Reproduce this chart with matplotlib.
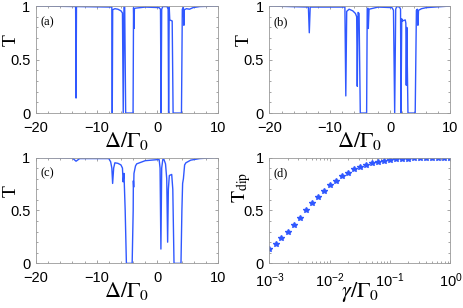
import matplotlib
matplotlib.use("Agg")
import matplotlib.pyplot as plt
from matplotlib.ticker import MultipleLocator, LogLocator, NullFormatter

# panel (a): transmission vs detuning, smallest loss
delta_a = [-20, -13.47, -13.4, -13.33, -7.5, -7.43, -7.36, -7.0, -6.5, -6.0, -5.75, -5.62,
           -5.5, -5.38, -5.22, -4.0, -3.92, -3.85, -3.78, -3.6, -2.0, 0.3, 0.52, 0.62,
           0.72, 0.9, 1.6, 1.78, 1.86, 1.96, 2.05, 2.45, 2.6, 3.98, 4.12, 4.3, 4.38, 4.45,
           4.8, 5.3, 5.9, 7.0, 10]
trans_a = [1.0, 0.995, 0.14, 0.995, 0.99, 0.0, 0.965, 0.975, 0.97, 0.955, 0.935, 0.0,
           0.99, 0.99, 0.0, 0.0, 0.985, 0.79, 0.975, 0.98, 0.99, 0.985, 0.97, 0.0,
           0.97, 0.995, 0.995, 0.97, 0.0, 0.99, 0.87, 0.86, 0.0, 0.0, 0.97, 0.985, 0.82, 0.965,
           0.975, 0.97, 0.985, 0.995, 1.0]

# panel (b)
delta_b = [-20, -13.55, -13.4, -13.25, -7.5, -7.35, -7.2, -6.8, -6.2, -5.75, -5.55, -5.45,
           -5.32, -5.15, -4.95, -3.9, -3.8, -3.7, -3.62, -3.5, -2.0, 0.3, 0.55, 0.75,
           0.92, 1.1, 1.55, 1.72, 1.8, 1.92, 2.0, 2.5, 2.6, 2.67, 2.76, 2.95, 4.15, 4.35,
           4.5, 4.6, 4.7, 5.2, 6.0, 10]
trans_b = [1.0, 0.99, 0.75, 0.99, 0.99, 0.16, 0.95, 0.97, 0.955, 0.93, 0.9, 0.25,
           0.94, 0.93, 0.0, 0.0, 0.97, 0.98, 0.79, 0.97, 0.99, 0.985, 0.96, 0.0,
           0.97, 0.995, 0.99, 0.97, 0.0, 0.88, 0.86, 0.87, 0.84, 0.26, 0.8, 0.0, 0.0, 0.96,
           0.97, 0.82, 0.96, 0.975, 0.985, 1.0]

# panel (c), largest loss
delta_c = [-20, -14.0, -13.4, -12.8, -8.0, -7.7, -7.5, -7.37, -7.2, -7.0, -6.5, -6.0,
           -5.75, -5.64, -5.5, -5.3, -5.1, -4.15, -3.98, -3.95, -3.9, -3.85, -3.6, -3.4,
           -2.0, 0.0, 0.3, 0.45, 0.59, 0.72, 0.9, 1.1, 1.35, 1.55, 1.7, 1.82, 1.98, 2.37,
           2.55, 2.75, 3.9, 4.05, 4.17, 4.3, 4.5, 4.71, 5.5, 7.0, 10]
trans_c = [1.0, 0.995, 0.965, 0.99, 0.99, 0.96, 0.9, 0.755, 0.9, 0.95, 0.945, 0.93,
           0.9, 0.77, 0.85, 0.5, 0.0, 0.0, 0.5, 0.78, 0.72, 0.85, 0.92, 0.94,
           0.97, 0.98, 0.98, 0.9, 0.135, 0.9, 0.98, 0.98, 0.94, 0.8, 0.2, 0.7, 0.83, 0.84,
           0.7, 0.0, 0.0, 0.5, 0.755, 0.8, 0.93, 0.95, 0.975, 0.99, 1.0]

# panel (d): dip transmission vs loss rate
gamma_d = [1.0e-3, 1.26e-3, 1.58e-3, 2.0e-3, 2.51e-3, 3.16e-3, 3.98e-3, 5.01e-3, 6.31e-3, 7.94e-3,
           1.0e-2, 1.26e-2, 1.58e-2, 2.0e-2, 2.51e-2, 3.16e-2, 3.98e-2, 5.01e-2, 6.31e-2, 7.94e-2,
           1.0e-1, 1.26e-1, 1.58e-1, 2.0e-1, 2.51e-1, 3.16e-1, 3.98e-1, 5.01e-1, 6.31e-1, 7.94e-1,
           1.0]
tdip_d = [0.14, 0.18, 0.236, 0.30, 0.365, 0.43, 0.50, 0.566, 0.63, 0.68,
          0.736, 0.78, 0.824, 0.858, 0.887, 0.912, 0.93, 0.947, 0.96, 0.97,
          0.977, 0.984, 0.987, 0.99, 0.992, 0.994, 0.995, 0.997, 0.997, 0.998,
          0.998]

BLUE = "#3058ff"
TICK_FONT = "Liberation Sans"
plt.rcParams["mathtext.fontset"] = "stix"
plt.rcParams["font.family"] = "Liberation Serif"


def style_axes(ax, log_x=False):
    for s in ax.spines.values():
        s.set_color("0.6")
        s.set_linewidth(0.6)
    ax.set_ylim(0, 1)
    ax.set_yticks([0, 0.5, 1])
    ax.set_yticklabels(["0", "0.5", "1"])
    ax.yaxis.set_minor_locator(MultipleLocator(0.1))
    if log_x:
        ax.set_xscale("log")
        ax.set_xlim(1e-3, 1)
        ax.xaxis.set_major_locator(LogLocator(base=10, numticks=10))
        ax.xaxis.set_minor_locator(LogLocator(base=10, subs=range(2, 10), numticks=10))
        ax.xaxis.set_minor_formatter(NullFormatter())
    else:
        ax.set_xlim(-20, 10)
        ax.set_xticks([-20, -10, 0, 10])
        ax.xaxis.set_minor_locator(MultipleLocator(2))
    ax.tick_params(which="both", direction="in", top=True, right=True, color="0.5", width=0.5)
    ax.tick_params(which="major", length=2.5, labelsize=10.5, pad=4)
    ax.tick_params(axis="x", which="major", pad=5.5)
    ax.tick_params(which="minor", length=1.5)
    for lab in ax.get_xticklabels() + ax.get_yticklabels():
        lab.set_fontfamily(TICK_FONT)


def plot_spectrum(ax, x, y, tag, label_y):
    ax.plot(x, y, color=BLUE, lw=1.0)
    style_axes(ax)
    ax.set_xlabel(r"$\Delta/\Gamma_0$", fontsize=16)
    ax.xaxis.set_label_coords(0.5, label_y)
    ax.set_ylabel("T", fontsize=14)
    ax.yaxis.set_label_coords(-0.09, 0.68)
    ax.text(0.06, 0.85, tag, transform=ax.transAxes, fontsize=9, ha="center", va="center")


fig = plt.figure(figsize=(4.63, 3.08), dpi=100)
ax_a = fig.add_axes([0.0778, 0.633, 0.393, 0.3475])
ax_b = fig.add_axes([0.582, 0.633, 0.391, 0.3475])
ax_c = fig.add_axes([0.0778, 0.145, 0.393, 0.3436])
ax_d = fig.add_axes([0.582, 0.145, 0.391, 0.3436])

plot_spectrum(ax_a, delta_a, trans_a, "(a)", -0.155)
plot_spectrum(ax_b, delta_b, trans_b, "(b)", -0.155)
plot_spectrum(ax_c, delta_c, trans_c, "(c)", -0.16)

ax_d.plot(gamma_d, tdip_d, linestyle="none", marker="*", color=BLUE, markersize=3.8)
style_axes(ax_d, log_x=True)
ax_d.set_xlabel(r"$\gamma/\Gamma_0$", fontsize=16)
ax_d.xaxis.set_label_coords(0.5, -0.16)
ax_d.set_ylabel(r"$\mathrm{T}_{\mathrm{dip}}$", fontsize=14)
ax_d.yaxis.set_label_coords(-0.09, 0.72)
ax_d.text(0.06, 0.85, "(d)", transform=ax_d.transAxes, fontsize=9, ha="center", va="center")

fig.savefig("out.png", dpi=100)
